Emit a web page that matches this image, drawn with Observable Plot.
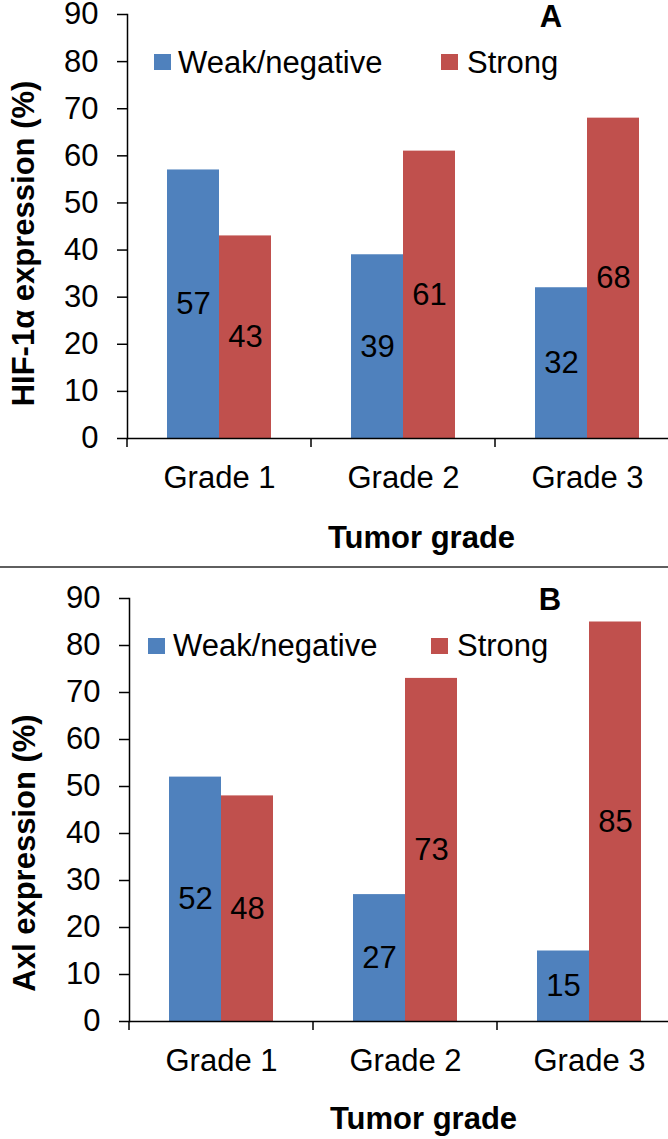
<!DOCTYPE html>
<html>
<head>
<meta charset="utf-8">
<script src="https://cdn.jsdelivr.net/npm/d3@7"></script>
<script src="https://cdn.jsdelivr.net/npm/@observablehq/plot@0.6"></script>
<style>
  html, body { margin: 0; padding: 0; background: #fff; }
  #root { width: 668px; }
  .sep { width: 668px; height: 2px; background: #5f5f5f; }
</style>
</head>
<body>
<div id="root"></div>
<script>
// ---- data ----
const grades = ["Grade 1", "Grade 2", "Grade 3"];
const seriesNames = ["Weak/negative", "Strong"];
const seriesColors = ["#4F81BD", "#C0504D"];
const hifWeak = [57, 39, 32];
const hifStrong = [43, 61, 68];
const axlWeak = [52, 27, 15];
const axlStrong = [48, 73, 85];
const yTicks = [0, 10, 20, 30, 40, 50, 60, 70, 80, 90];
const xTitle = "Tumor grade";
const yTitleA = "HIF-1α expression (%)";
const yTitleB = "Axl expression (%)";

const FONT = "Arial, 'Liberation Sans', Helvetica, sans-serif";

function boundaryTicks(index, scales, values, dims) {
  const y0 = scales.y(0);
  const g = d3.create("svg:g");
  g.append("line")
    .attr("x1", dims.marginLeft).attr("x2", dims.marginLeft)
    .attr("y1", y0).attr("y2", y0 + 9)
    .attr("stroke", "#000").attr("stroke-width", 1.5);
  return g.node();
}

function makePanel(weak, strong, yTitle, letter, lay) {
  const rows = grades.flatMap((g, i) => [
    {grade: g, series: seriesNames[0], value: weak[i]},
    {grade: g, series: seriesNames[1], value: strong[i]}
  ]);
  const svg = Plot.plot({
    width: 668,
    height: lay.height,
    marginTop: lay.marginTop,
    marginBottom: lay.marginBottom,
    marginLeft: lay.marginLeft,
    marginRight: 668 - (lay.marginLeft + 3 * lay.band),
    style: {fontFamily: FONT, fontSize: "31px", color: "#000", background: "#fff", overflow: "hidden"},
    fx: {domain: grades, padding: 0, label: null},
    x: {domain: seriesNames, paddingInner: 0, paddingOuter: 0.745, axis: null},
    y: {domain: [0, 90], label: null},
    color: {domain: seriesNames, range: seriesColors},
    marks: [
      Plot.barY(rows, {fx: "grade", x: "series", y: "value", fill: "series", inset: 0}),
      Plot.text(rows, {fx: "grade", x: "series", y: d => d.value / 2, text: d => String(d.value),
        fontSize: 31, fill: "#000"}),
      Plot.ruleY([0], {stroke: "#000", strokeWidth: 1.5}),
      Plot.frame({anchor: "left", facetAnchor: "left", stroke: "#000", strokeWidth: 1.5}),
      boundaryTicks,
      Plot.axisY({ticks: yTicks, tickSize: 10, tickPadding: 19, fontSize: 31,
        stroke: "#000", strokeWidth: 1.5, label: null, tickFormat: d => String(d)}),
      Plot.axisFx({anchor: "bottom", tickSize: 0, tickPadding: 27, fontSize: 31, label: null}),
      Plot.text([xTitle], {fx: () => grades[1], text: d => d, frameAnchor: "bottom",
        textAnchor: "middle", lineAnchor: "middle", dx: 18, dy: lay.xTitleDy,
        fontWeight: "bold", fontSize: 31}),
      Plot.text([yTitle], {fx: () => grades[0], text: d => d, frameAnchor: "left",
        textAnchor: "middle", lineAnchor: "middle", rotate: -90,
        dx: lay.yTitleDx, dy: lay.yTitleDy, fontWeight: "bold", fontSize: 31})
    ]
  });
  // legend + panel letter
  const g = d3.select(svg).append("g").attr("font-family", FONT).attr("font-size", 31)
    .attr("fill", "#000").attr("text-anchor", "start");
  seriesNames.forEach((name, i) => {
    g.append("rect").attr("x", lay.legendX[i]).attr("y", lay.legendTop)
      .attr("width", 17).attr("height", 16).attr("fill", seriesColors[i]);
    g.append("text").attr("x", lay.legendTextX[i]).attr("y", lay.legendBaseline)
      .attr("text-anchor", "start").text(name);
  });
  g.append("text").attr("x", lay.letterX).attr("y", lay.letterBaseline)
    .attr("text-anchor", "middle").attr("font-weight", "bold").text(letter);
  return svg;
}

const root = document.getElementById("root");
root.appendChild(makePanel(hifWeak, hifStrong, yTitleA, "A", {
  height: 566, marginTop: 14, marginBottom: 128, marginLeft: 126, band: 184.8,
  xTitleDy: 99.5, yTitleDx: -103, yTitleDy: 17,
  legendX: [154, 441], legendTextX: [178, 467], legendTop: 54, legendBaseline: 73,
  letterX: 551, letterBaseline: 27
}));
const sep = document.createElement("div");
sep.className = "sep";
root.appendChild(sep);
root.appendChild(makePanel(axlWeak, axlStrong, yTitleB, "B", {
  height: 571, marginTop: 30, marginBottom: 118, marginLeft: 128, band: 184.8,
  xTitleDy: 98, yTitleDx: -104, yTitleDy: 43,
  legendX: [148, 431], legendTextX: [173, 457], legendTop: 70, legendBaseline: 88,
  letterX: 550, letterBaseline: 42
}));
</script>
</body>
</html>
